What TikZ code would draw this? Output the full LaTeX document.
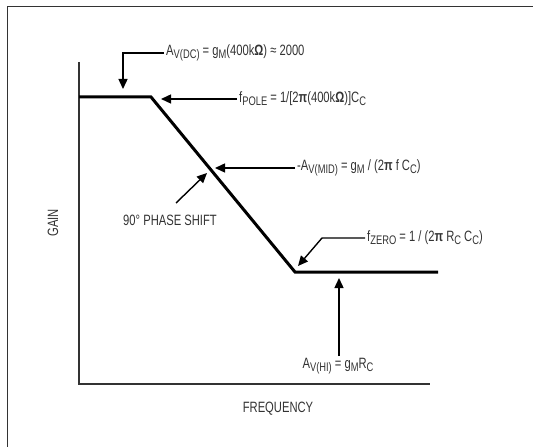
\documentclass[tikz,border=0pt]{standalone}
\usepackage{fontspec}
\setmainfont{Liberation Sans}[FakeStretch=0.75]
\usetikzlibrary{arrows.meta}
\newcommand{\lowsub}[1]{\raisebox{-0.3ex}{\fontsize{12.5}{13}\selectfont #1}}
\begin{document}
\begin{tikzpicture}[x=1bp, y=-1bp,
        label/.style={inner sep=2bp, text=black!80, font=\fontsize{15}{17}\selectfont},
        pointer/.style={black, line width=1.4bp, -{Triangle[length=10bp, width=9bp]}},
        axis/.style={black!80, line width=1.6bp},
        response/.style={black, line width=3bp, line join=miter}]
        \useasboundingbox (0,0) rectangle (533,447);
        \draw[black!80, line width=1.6bp] (533,6.5) -- (7.5,6.5) -- (7.5,447);
        % axes
        \coordinate (ytop) at (79,62);
        \coordinate (o) at (79,384);
        \coordinate (xend) at (430,384);
        \draw[axis] (ytop) -- (o) -- (xend);
        \node[label, rotate=90] (gain) at (53,223) {GAIN};
        \node[label] (freq) at (278,409) {FREQUENCY};
        % gain curve
        \coordinate (dc) at (79,97);
        \coordinate (pole) at (151,97);
        \coordinate (zero) at (295,272);
        \coordinate (hi) at (438,272);
        \draw[response] (dc) -- (pole) -- (zero) -- (hi);
        % labels and their arrows
        \node[label, anchor=west] (avdc) at (164,53) {A\lowsub{V(DC)} = g\lowsub{M}(400k\textbf{Ω}) ≈ 2000};
        \coordinate (dctip) at (123,89);
        \draw[pointer] (avdc.west) -| (dctip);
        \node[label, anchor=west] (fpole) at (237,99) {f\lowsub{POLE} = 1/[2\textbf{π}(400k\textbf{Ω})]C\lowsub{C}};
        \coordinate (poletip) at (161,99);
        \draw[pointer] (fpole.west) -- (poletip);
        \node[label, anchor=west] (avmid) at (295,168) {-A\lowsub{V(MID)} = g\lowsub{M} / (2\textbf{π} f C\lowsub{C})};
        \coordinate (midtip) at (215,168);
        \draw[pointer] (avmid.west) -- (midtip);
        \node[label, anchor=west] (fzero) at (365,238) {f\lowsub{ZERO} = 1 / (2\textbf{π} R\lowsub{C} C\lowsub{C})};
        \coordinate (zbend) at (322,238);
        \coordinate (zerotip) at (298,266);
        \draw[pointer] (fzero.west) -- (zbend) -- (zerotip);
        \node[label] (avhi) at (338,366) {A\lowsub{V(HI)} = g\lowsub{M}R\lowsub{C}};
        \coordinate (hitip) at (339,278);
        \draw[pointer] (avhi.north -| hitip) -- (hitip);
        \node[label] (phase) at (170,220) {90° PHASE SHIFT};
        \coordinate (phfoot) at (176,203);
        \coordinate (phtip) at (207,173);
        \draw[pointer] (phfoot) -- (phtip);
    \end{tikzpicture}
\end{document}
